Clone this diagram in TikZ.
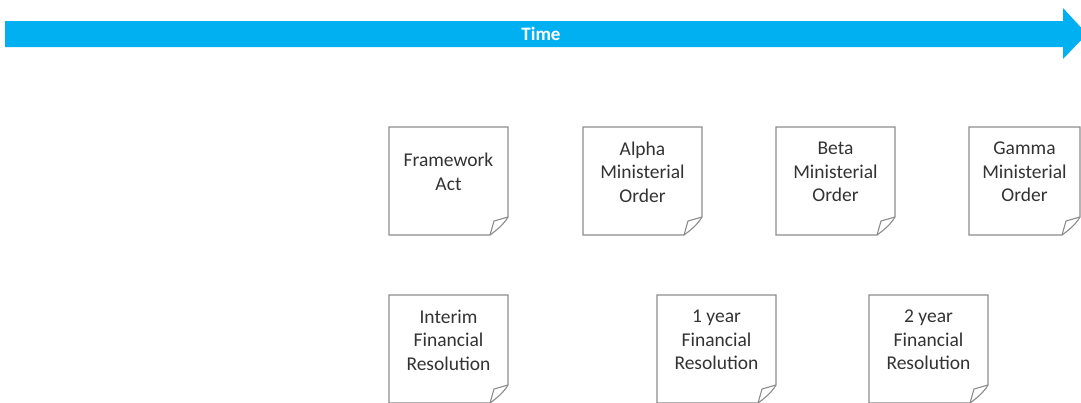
\documentclass[tikz,border=0pt]{standalone}
\usepackage{fontspec}
\setmainfont{Carlito}
\usepackage{tikz}
\definecolor{timeblue}{HTML}{00B0F0}
\definecolor{noteedge}{HTML}{8C8C8C}
\definecolor{notefont}{HTML}{333333}
\tikzset{
	noteline/.style={draw=noteedge, line width=1.1pt, fill=white, line join=miter},
	notetext/.style={align=center, text=notefont, font=\fontsize{19.5}{23.5}\selectfont, inner sep=0pt},
	timetext/.style={text=white, font=\bfseries\fontsize{19}{22}\selectfont, inner sep=0pt}
}
% Syntax: \notebox{name}{left}{top}{width}{text} -- sheet with folded corner, height 108
\newcommand{\notebox}[5]{%
	\draw[noteline] (#2,#3) -- (#2+#4,#3) -- (#2+#4,#3+90)
		.. controls (#2+#4-4,#3+97) and (#2+#4-11,#3+103) .. (#2+#4-18,#3+108)
		-- (#2,#3+108) -- cycle;
	\draw[noteline, fill=none] (#2+#4-18,#3+108) -- (#2+#4-14,#3+94) -- (#2+#4,#3+90);
	\node[notetext] (#1) at (#2+#4/2,#3+45) {#5};
}

\begin{document}
\begin{tikzpicture}[x=1pt, y=-1pt]
	\useasboundingbox (0,0) rectangle (1081,402);
	\clip (0,0) rectangle (1081,402);
	
	%time arrow
	\fill[timeblue] (5,21) -- (1063,21) -- (1063,8) -- (1087,34) -- (1063,59) -- (1063,47) -- (5,47) -- cycle;
		\node[timetext] (time) at (541,34) {Time};
	
	%top row: acts and orders
	\notebox{fwact}{389}{127}{119}{Framework\\Act}
	\notebox{alpha}{583}{127}{119}{Alpha\\Ministerial\\Order}
	\notebox{beta}{776}{127}{119}{Beta\\Ministerial\\Order}
	\notebox{gamma}{969}{127}{111}{Gamma\\Ministerial\\Order}
	
	%bottom row: financial resolutions
	\notebox{interim}{389}{295}{119}{Interim\\Financial\\Resolution}
	\notebox{oneyear}{657}{295}{119}{1 year\\Financial\\Resolution}
	\notebox{twoyear}{869}{295}{119}{2 year\\Financial\\Resolution}
\end{tikzpicture}
\end{document}
